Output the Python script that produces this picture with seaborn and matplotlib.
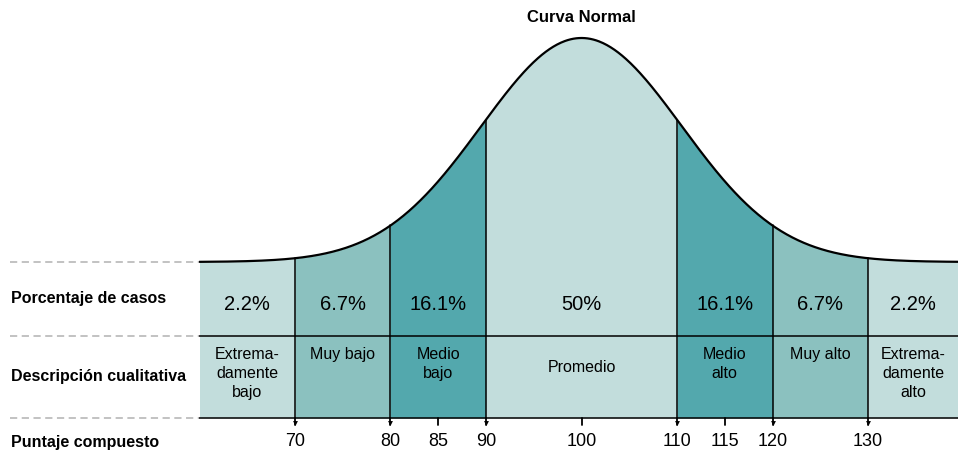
import numpy as np
import pandas as pd
import matplotlib
matplotlib.use("Agg")
import matplotlib.pyplot as plt
import seaborn as sns

# data
bounds = [60, 70, 80, 90, 110, 120, 130, 140]
percents = ["2.2%", "6.7%", "16.1%", "50%", "16.1%", "6.7%", "2.2%"]
descriptions = ["Extrema-\ndamente\nbajo", "Muy bajo", "Medio\nbajo", "Promedio",
                "Medio\nalto", "Muy alto", "Extrema-\ndamente\nalto"]
tick_values = [70, 80, 85, 90, 100, 110, 115, 120, 130]
row_labels = ["Porcentaje de casos", "Descripción cualitativa", "Puntaje compuesto"]
curve_mean = 100
curve_sd = 10.5

light, mid, dark = "#c2dddc", "#8bc1bf", "#53a8ad"
seg_colors = [light, mid, dark, light, dark, mid, light]

sns.set_style("white")
plt.rcParams['font.family'] = ['Liberation Sans', 'DejaVu Sans']
plt.rcParams['text.color'] = "black"

fig = plt.figure(figsize=(9.58, 4.55), dpi=100)
ax = fig.add_axes([0, 0, 1, 1])
# x in score units, y in "pixel" units (top = 0)
px_per_unit = 9.55
x_left = 100 - 581.5 / px_per_unit
x_right = 100 + (958 - 581.5) / px_per_unit
ax.set_xlim(x_left, x_right)
ax.set_ylim(455, 0)
ax.axis("off")

base_y, peak_h, bottom_y, mid_y = 262, 224, 418, 336

def curve(x):
    return base_y - peak_h * np.exp(-(x - curve_mean) ** 2 / (2 * curve_sd ** 2))

xs = np.linspace(bounds[0], bounds[-1], 800)
df = pd.DataFrame({"score": xs, "y": curve(xs)})

for i in range(len(seg_colors)):
    lo, hi = bounds[i], bounds[i + 1]
    xx = np.linspace(lo, hi, 200)
    ax.fill_between(xx, curve(xx), bottom_y, color=seg_colors[i], lw=0)

sns.lineplot(data=df, x="score", y="y", ax=ax, color="black", lw=1.6)

# vertical dividers
for b in bounds[1:-1]:
    ax.plot([b, b], [curve(b), bottom_y], color="black", lw=1.1)

# horizontal row lines
ax.plot([bounds[0], x_right], [mid_y, mid_y], color="black", lw=1.1)
ax.plot([bounds[0], x_right], [bottom_y, bottom_y], color="black", lw=1.1)

# dashed guide lines on the left
x_dash0 = x_left + 10 / px_per_unit
for yy in [base_y, mid_y, bottom_y]:
    ax.plot([x_dash0, bounds[0]], [yy, yy], color="#bdbdbd", lw=1.3,
            linestyle=(0, (4, 2.5)))

# ticks
for t in tick_values:
    ax.plot([t, t], [bottom_y, bottom_y + 7], color="black", lw=1.3)
    if t in bounds:
        ax.plot(t, bottom_y + 5, marker="v", color="black", ms=3.5, mew=0)
    ax.text(t, 442, str(t), ha="center", va="center", fontsize=13)

# segment labels
for i in range(len(seg_colors)):
    lo, hi = bounds[i], min(bounds[i + 1], x_right)
    cx = (lo + hi) / 2
    ax.text(cx, 305, percents[i], ha="center", va="center", fontsize=14.5)
    if i != 3:
        ax.text(cx, 347, descriptions[i], ha="center", va="top", fontsize=11.5,
                linespacing=1.35)
    else:
        ax.text(cx, 367, descriptions[i], ha="center", va="center", fontsize=11.5)

# row labels
for lab, yy in zip(row_labels, [298, 376, 442]):
    ax.text(x_left + 11 / px_per_unit, yy, lab, ha="left", va="center",
            fontsize=11.5, fontweight="bold")

ax.text(100, 18, "Curva Normal", ha="center", va="center", fontsize=12,
        fontweight="bold")

fig.savefig("out.png", dpi=100)
